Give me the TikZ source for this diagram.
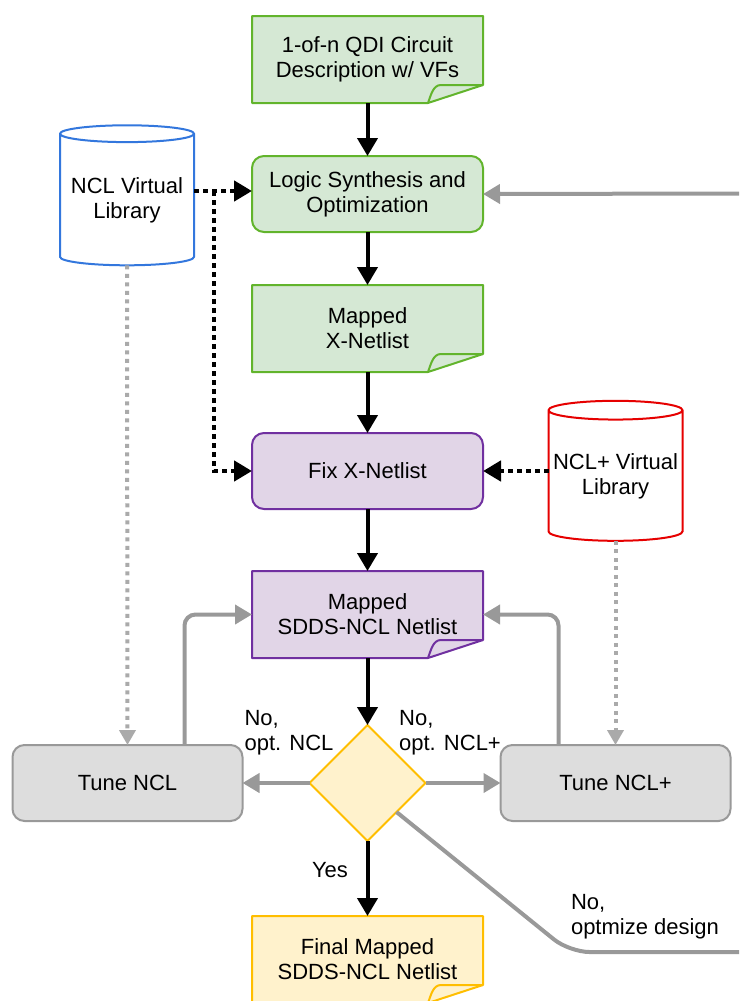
\documentclass[tikz,border=0pt]{standalone}
\usepackage{fontspec}
\setmainfont{Liberation Sans}
\usepackage{xcolor}
\usetikzlibrary{arrows.meta,positioning,calc,shapes.geometric,backgrounds}
\definecolor{greenfill}{RGB}{213,232,212}
\definecolor{greenline}{RGB}{98,180,44}
\definecolor{purplefill}{RGB}{225,213,231}
\definecolor{purpleline}{RGB}{112,48,160}
\definecolor{yellowfill}{RGB}{255,242,204}
\definecolor{yellowline}{RGB}{255,190,0}
\definecolor{grayfill}{RGB}{221,221,221}
\definecolor{grayline}{RGB}{153,153,153}
\definecolor{graydots}{RGB}{170,170,170}
\definecolor{libblue}{RGB}{51,119,221}
\definecolor{libred}{RGB}{230,0,0}
\newcommand{\foldpaper}[3]{%
  \begin{pgfonlayer}{background}
  \draw[draw=#2, fill=#3, line width=2pt, line join=round]
    (#1.north west) -- (#1.north east) -- ([yshift=18pt]#1.south east)
    -- ([xshift=-55pt]#1.south east) -- (#1.south west) -- cycle;
  \draw[draw=#2, line width=2pt, line join=round]
    ([yshift=18pt]#1.south east) -- ([xshift=-42pt,yshift=18pt]#1.south east)
    .. controls +(-8pt,0pt) and +(3pt,8pt) .. ([xshift=-55pt]#1.south east);
  \end{pgfonlayer}}

\begin{document}
\begin{tikzpicture}[
  x=1pt, y=1pt,
  font=\fontsize{22}{25}\selectfont,
  box/.style={draw, line width=2pt, rounded corners=12pt, minimum width=231pt, minimum height=76pt, align=center, inner sep=0pt, outer sep=0pt},
  paper/.style={minimum width=231pt, minimum height=87pt, align=center, inner sep=0pt, outer sep=0pt},
  vlibrary/.style={cylinder, shape border rotate=90, aspect=0.15, draw, fill=white, line width=2pt, minimum width=134pt, minimum height=140pt, align=center, inner sep=0pt, outer sep=0pt},
  blk/.style={-{Triangle[length=18pt,width=20pt]}, line width=4pt},
  dots/.style={-{Triangle[length=18pt,width=20pt]}, line width=4.5pt, dash pattern=on 4.5pt off 4.5pt},
  gry/.style={-{Triangle[length=17pt,width=19pt]}, line width=4pt, color=grayline},
  gdots/.style={-{Triangle[length=15pt,width=16pt]}, line width=4pt, dash pattern=on 4pt off 4.5pt, color=graydots},
  lbl/.style={align=left, inner sep=0pt}
]
\useasboundingbox (0,0) rectangle (739,-1001);

\node[paper] (qdi) at (367.5,-59.5) {1-of-n QDI Circuit\\Description w/ VFs};
\node[box, draw=greenline, fill=greenfill, below=53pt of qdi] (synth) {Logic Synthesis and\\Optimization};
\node[paper, below=53pt of synth] (xnet) {Mapped\\X-Netlist};
\node[box, draw=purpleline, fill=purplefill, below=61pt of xnet] (fixx) {Fix X-Netlist};
\node[paper, below=62pt of fixx] (sdds) {Mapped\\SDDS-NCL Netlist};
\node[diamond, draw=yellowline, fill=yellowfill, line width=2pt, minimum width=116pt, minimum height=116pt, inner sep=0pt, outer sep=0pt, below=67pt of sdds] (check) {};
\node[paper, below=75pt of check] (final) {Final Mapped\\SDDS-NCL Netlist};
\node[box, draw=grayline, fill=grayfill, minimum width=230pt, left=67pt of check] (tune) {Tune NCL};
\node[box, draw=grayline, fill=grayfill, minimum width=230pt, right=75pt of check] (tuneplus) {Tune NCL+};
\node[vlibrary, draw=libblue] (vlib) at (127,-200) {NCL Virtual\\Library};
\node[vlibrary, draw=libred] (vlibplus) at (615.5,-476) {NCL+ Virtual\\Library};

\foldpaper{qdi}{greenline}{greenfill}
\foldpaper{xnet}{greenline}{greenfill}
\foldpaper{sdds}{purpleline}{purplefill}
\foldpaper{final}{yellowline}{yellowfill}

\coordinate (split) at (214,-191);
\coordinate (loopin) at (739,-193.5);
\coordinate (loopout) at (739,-952);

\draw[blk] (qdi) -- (synth);
\draw[blk] (synth) -- (xnet);
\draw[blk] (xnet) -- (fixx);
\draw[blk] (fixx) -- (sdds);
\draw[blk] (sdds) -- (check);
\draw[blk] (check) -- (final);

\draw[dots] (vlib.east |- split) -- (synth.west |- split);
\draw[dots] (split) |- (fixx.west);
\draw[dots] (vlibplus.west |- fixx) -- (fixx.east);

\draw[gdots] (vlib.south) -- (tune.north);
\draw[gdots] (vlibplus.south) -- (tuneplus.north);

\draw[gry] (check.west) -- (tune.east);
\draw[gry] (check.east) -- (tuneplus.west);
\draw[gry, rounded corners=11pt] ([xshift=-58pt]tune.north east) |- (sdds.west);
\draw[gry, rounded corners=11pt] ([xshift=58pt]tuneplus.north west) |- (sdds.east);
\draw[gry] (loopin) -- (synth.east);
\draw[line width=4pt, color=grayline, rounded corners=20pt] ($(check.east)!0.5!(check.south)$) -- ++(173,-140) -- (loopout);

\node[lbl] (noncl) at (289,-733) {No,\\opt. NCL};
\node[lbl] (noplus) at (450,-733) {No,\\opt. NCL+};
\node[lbl] (yes) at (330,-870) {Yes};
\node[lbl] (noopt) at (645,-917) {No,\\optmize design};
\end{tikzpicture}
\end{document}
